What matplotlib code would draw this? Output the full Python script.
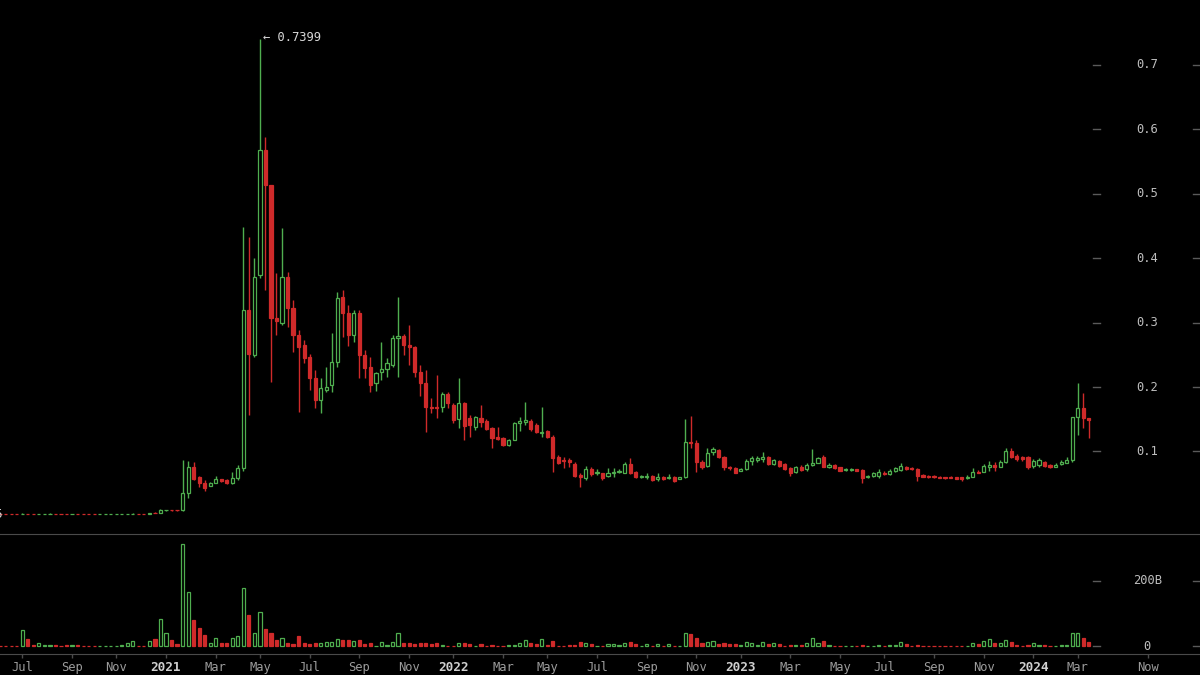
import numpy as np
import pandas as pd
import matplotlib
matplotlib.use("Agg")
import matplotlib.pyplot as plt
import matplotlib.dates as mdates
import matplotlib.transforms as mtransforms

# weekly candles, one per Sunday starting here
first_week = "2020-06-07"
now_date = "2024-05-31"

open_ = [
    .00255, .00250, .00245, .00238, .00233, .00335, .00320, .00310, .00330, .00345,
    .00355, .00325, .00310, .00275, .00285, .00275, .00265, .00260, .00255, .00260,
    .00265, .00270, .00275, .00290, .00320, .00350, .00330, .00320, .00450, .00440,
    .00880, .00920, .00880, .00840, .0350, .0763, .0600, .0510, .0470, .0515,
    .0567, .0550, .0515, .0582, .0737, .3196, .2497, .3740, .5680, .5137,
    .3067, .2990, .3710, .3220, .2807, .2650, .2470, .2135, .1798, .1960,
    .2030, .2393, .3400, .3144, .2807, .3144, .2498, .2317, .2058, .2240,
    .2281, .2343, .2756, .2792, .2650, .2627, .2239, .2058, .1696, .1685,
    .1696, .1893, .1721, .1500, .1747, .1520, .1375, .1515, .1479, .1360,
    .1230, .1205, .1101, .1178, .1447, .1463, .1479, .1410, .1292, .1318,
    .1230, .0918, .0870, .0860, .0804, .0633, .0581, .0721, .0660, .0660,
    .0617, .0660, .0685, .0670, .0804, .0685, .0597, .0597, .0617, .0565,
    .0597, .0580, .0607, .0576, .0597, .1152, .1126, .0841, .0773, .0996,
    .1022, .0918, .0763, .0737, .0701, .0721, .0856, .0866, .0876, .0908,
    .0804, .0856, .0804, .0737, .0685, .0763, .0720, .0790, .0825, .0908,
    .0763, .0789, .0753, .0711, .0711, .0720, .0711, .0597, .0618, .0618,
    .0670, .0650, .0701, .0711, .0763, .0737, .0720, .0633, .0618, .0618,
    .0608, .0597, .0608, .0597, .0597, .0580, .0608, .0685, .0685, .0763,
    .0789, .0763, .0841, .1011, .0929, .0908, .0908, .0773, .0789, .0841,
    .0789, .0763, .0804, .0825, .0866, .1529, .1669, .1513,
]
high = [
    .00262, .00256, .00250, .00244, .00520, .00365, .00330, .00345, .00355, .00370,
    .00362, .00332, .00318, .00292, .00290, .00280, .00270, .00266, .00266, .00270,
    .00276, .00282, .00298, .00330, .00460, .00362, .00340, .00470, .00580, .01050,
    .00980, .00950, .00900, .0860, .0856, .0830, .0620, .0560, .0530, .0620,
    .0575, .0565, .0685, .0789, .4490, .4330, .4000, .7399, .5887, .5140,
    .3766, .4464, .3790, .3350, .2880, .2730, .2520, .2260, .2135, .2315,
    .2834, .3480, .3500, .3270, .3196, .3200, .2575, .2460, .2240, .2700,
    .2446, .2808, .3403, .2830, .2963, .2640, .2340, .2265, .1830, .2187,
    .1930, .1930, .1747, .2136, .1770, .1570, .1550, .1720, .1500, .1385,
    .1385, .1230, .1200, .1460, .1540, .1770, .1510, .1447, .1696, .1340,
    .1256, .0946, .0920, .0892, .0840, .0660, .0773, .0760, .0721, .0670,
    .0737, .0740, .0720, .0840, .0892, .0700, .0635, .0660, .0633, .0660,
    .0617, .0650, .0617, .0607, .1498, .1550, .1180, .0868, .1048, .1070,
    .1032, .0928, .0773, .0753, .0737, .0877, .0930, .0930, .0995, .0928,
    .0877, .0866, .0825, .0753, .0773, .0790, .0820, .1037, .0908, .0944,
    .0815, .0804, .0763, .0737, .0737, .0730, .0721, .0633, .0685, .0720,
    .0701, .0720, .0763, .0814, .0773, .0753, .0737, .0649, .0628, .0628,
    .0618, .0608, .0618, .0608, .0608, .0628, .0737, .0711, .0804, .0856,
    .0840, .0866, .1048, .1048, .0960, .0929, .0929, .0877, .0893, .0856,
    .0804, .0815, .0866, .0908, .1540, .2057, .1912, .1513,
]
low = [
    .00246, .00241, .00235, .00229, .00230, .00310, .00300, .00305, .00325, .00335,
    .00318, .00300, .00265, .00270, .00268, .00258, .00255, .00250, .00252, .00256,
    .00260, .00266, .00270, .00285, .00315, .00320, .00312, .00315, .00400, .00430,
    .00800, .00830, .00780, .00780, .0272, .0550, .0450, .0390, .0460, .0505,
    .0525, .0500, .0494, .0560, .0700, .1565, .2470, .3700, .3506, .2080,
    .2807, .2960, .2937, .2548, .1617, .2370, .1953, .1670, .1590, .1920,
    .1920, .2315, .2780, .2630, .2703, .2135, .2136, .1930, .1940, .2110,
    .2150, .2317, .2160, .2498, .2340, .2160, .1860, .1308, .1590, .1520,
    .1610, .1670, .1437, .1360, .1178, .1230, .1330, .1385, .1330, .1050,
    .1180, .1090, .1090, .1170, .1310, .1410, .1320, .1290, .1230, .1210,
    .0685, .0800, .0737, .0763, .0597, .0452, .0556, .0620, .0640, .0556,
    .0597, .0600, .0660, .0660, .0650, .0580, .0581, .0576, .0545, .0545,
    .0555, .0570, .0530, .0566, .0581, .1050, .0685, .0722, .0763, .0944,
    .0892, .0710, .0710, .0660, .0690, .0711, .0789, .0840, .0840, .0789,
    .0789, .0763, .0711, .0618, .0670, .0695, .0700, .0770, .0815, .0753,
    .0740, .0727, .0690, .0701, .0701, .0690, .0515, .0582, .0597, .0582,
    .0633, .0633, .0685, .0701, .0711, .0711, .0545, .0597, .0592, .0590,
    .0582, .0576, .0587, .0571, .0545, .0571, .0597, .0660, .0675, .0701,
    .0701, .0753, .0825, .0893, .0856, .0856, .0720, .0737, .0753, .0753,
    .0737, .0753, .0789, .0815, .0840, .1254, .1358, .1203,
]
close = [
    .00250, .00245, .00238, .00233, .00335, .00320, .00310, .00330, .00345, .00355,
    .00325, .00310, .00275, .00285, .00275, .00265, .00260, .00255, .00260, .00265,
    .00270, .00275, .00290, .00320, .00350, .00330, .00320, .00450, .00440, .00880,
    .00920, .00880, .00840, .0350, .0763, .0567, .0504, .0427, .0515, .0567,
    .0540, .0515, .0582, .0737, .3196, .2520, .3710, .5680, .5137, .3067,
    .3020, .3710, .3220, .2807, .2626, .2445, .2135, .1798, .1980, .2000,
    .2393, .3377, .3144, .2807, .3144, .2497, .2291, .2032, .2213, .2280,
    .2369, .2756, .2792, .2653, .2620, .2239, .2058, .1696, .1670, .1670,
    .1893, .1747, .1489, .1747, .1395, .1411, .1541, .1463, .1344, .1205,
    .1190, .1101, .1178, .1437, .1479, .1490, .1344, .1308, .1308, .1230,
    .0900, .0826, .0850, .0840, .0617, .0607, .0721, .0649, .0685, .0580,
    .0660, .0685, .0700, .0804, .0670, .0597, .0617, .0617, .0555, .0597,
    .0565, .0607, .0545, .0597, .1150, .1126, .0841, .0753, .0970, .1032,
    .0918, .0763, .0737, .0670, .0727, .0856, .0892, .0892, .0918, .0804,
    .0866, .0773, .0721, .0660, .0753, .0711, .0790, .0825, .0892, .0763,
    .0789, .0737, .0701, .0721, .0720, .0701, .0582, .0618, .0659, .0685,
    .0650, .0701, .0737, .0773, .0720, .0720, .0618, .0608, .0597, .0597,
    .0587, .0582, .0592, .0576, .0571, .0608, .0685, .0670, .0773, .0789,
    .0763, .0841, .1011, .0908, .0877, .0877, .0753, .0856, .0866, .0773,
    .0753, .0789, .0841, .0866, .1529, .1669, .1513, .1490,
]
# weekly volume, billions
volume = [
    1.5, 1.5, 1.5, 2, 50, 22, 5, 10, 5, 5,
    5, 3, 5, 4, 4, 3, 3, 2.5, 2.5, 3,
    2.5, 3, 4, 10, 17, 2.5, 2.5, 17, 23, 83,
    40, 20, 7, 313, 167, 81, 55, 35, 12, 26,
    10, 10, 26, 32, 178, 96, 40, 104, 52, 40,
    20, 26, 12, 7, 32, 10, 7, 10, 12, 13,
    15, 22, 20, 20, 17, 20, 7, 10, 3, 15,
    5, 15, 40, 10, 12, 7, 10, 12, 7, 12,
    5, 3, 3, 12, 10, 7, 3, 7, 3, 5,
    3, 2.5, 4, 5, 10, 20, 10, 7, 22, 5,
    17, 2.5, 2.5, 4.7, 4.7, 12.8, 9.8, 6.7, 2, 2,
    6.7, 6.7, 4.7, 9.8, 12.8, 6.7, 2, 6.7, 3, 6.7,
    1.6, 6.7, 1.6, 1.6, 40, 37, 27, 9.8, 12.8, 16.9,
    6.7, 9.8, 6.7, 6.7, 4.7, 12.8, 9.8, 4.7, 12.8, 6.7,
    9.8, 6.7, 1.6, 4.7, 4.7, 4.7, 9.8, 26, 9.8, 16.9,
    4.7, 1.6, 1.6, 1.6, 1.6, 1.6, 4.7, 1.6, 1.6, 4.7,
    1.6, 4.7, 4.7, 12.8, 6.7, 1.6, 4.7, 1.6, 1.6, 1.6,
    1.6, 1.6, 1.6, 1.6, 1.6, 1.6, 9.8, 6.7, 16.9, 22,
    9.8, 9.8, 20, 12.8, 4.7, 1.6, 4.7, 9.8, 4.7, 4.7,
    1.6, 1.6, 4.7, 4.7, 40, 40, 27, 12.8,
]

price_ticks = [0.1, 0.2, 0.3, 0.4, 0.5, 0.6, 0.7]
volume_ticks = [0, 200]
volume_labels = ["0", "200B"]
ath_label = "\u2190 0.7399"
low_label = "0.0025"

GREEN = "#4fae4f"
RED = "#cf2a2a"
GRID = "#4a4a4a"
MONO = "DejaVu Sans Mono"

o = np.array(open_)
h = np.array(high)
l = np.array(low)
c = np.array(close)
v = np.array(volume)

weeks = np.datetime64(first_week, "D") + 7 * np.arange(len(o))
x = mdates.date2num(weeks)
up = c >= o
edge = np.where(up, GREEN, RED)
face = np.where(up, "black", RED)

fig = plt.figure(figsize=(12, 6.75), dpi=100, facecolor="black")
ax = fig.add_axes([0, 0.2081, 1, 0.7919], facecolor="black")
axv = fig.add_axes([0, 0.0304, 1, 0.1778], facecolor="black")

# candles
body_lo = np.minimum(o, c)
body_hi = np.maximum(o, c)
ax.vlines(x, l, body_lo, colors=edge, linewidth=1.0)
ax.vlines(x, body_hi, h, colors=edge, linewidth=1.0)
ax.bar(x, body_hi - body_lo, bottom=body_lo, width=4.0, color=face,
       edgecolor=edge, linewidth=0.9)

# volume
axv.bar(x, v, width=4.0, color=face, edgecolor=edge, linewidth=0.9)

xmin, xmax = x[0] - 0.3, x[-1] + 141
for a in (ax, axv):
    a.set_xlim(xmin, xmax)
    a.set_yticks([])
    for s in a.spines.values():
        s.set_visible(False)
ax.set_xticks([])
ax.set_ylim(-0.029, 0.8009)
axv.set_ylim(-24.4, 342)
axv.spines["top"].set_visible(True)
axv.spines["bottom"].set_visible(True)
axv.spines["top"].set_color(GRID)
axv.spines["bottom"].set_color(GRID)


def right_ticks(a, values, labels):
    tr = mtransforms.blended_transform_factory(a.transAxes, a.transData)
    for val, lab in zip(values, labels):
        a.plot([0.911, 0.917], [val, val], transform=tr, color="#5a5a5a", lw=1)
        a.plot([0.994, 1.0], [val, val], transform=tr, color="#5a5a5a", lw=1)
        a.text(0.956, val, lab, transform=tr, ha="center", va="center",
               color="#bdbdbd", fontsize=8.7, family=MONO)


right_ticks(ax, price_ticks, [f"{t:.1f}" for t in price_ticks])
right_ticks(axv, volume_ticks, volume_labels)

# x ticks: first weekly candle on/after the 1st of every odd month
month_starts = pd.date_range("2020-07-01", "2024-03-01", freq="2MS")
tick_x, tick_lab, is_year = [], [], []
for m in month_starts:
    idx = np.searchsorted(weeks, np.datetime64(m.date(), "D"))
    if idx >= len(weeks):
        continue
    tick_x.append(x[idx])
    tick_lab.append(str(m.year) if m.month == 1 else m.strftime("%b"))
    is_year.append(m.month == 1)
tick_x.append(mdates.date2num(np.datetime64(now_date, "D")))
tick_lab.append("Now")
is_year.append(False)

axv.set_xticks(tick_x)
axv.set_xticklabels(tick_lab)
axv.tick_params(axis="x", length=3, width=1, color=GRID, pad=2,
                labelsize=8.7, labelcolor="#9c9c9c")
for t, yr in zip(axv.get_xticklabels(), is_year):
    t.set_family(MONO)
    if yr:
        t.set_fontweight("bold")
        t.set_color("#cfcfcf")
        t.set_fontsize(9.2)

# high / low markers
i_max = int(np.argmax(h))
ax.annotate(ath_label, xy=(x[i_max], h[i_max]), xytext=(2.5, 1),
            textcoords="offset points", ha="left", va="center",
            color="#d8d8d8", fontsize=8.7, family=MONO)
ax.annotate(low_label, xy=(x[0], l[0]), xytext=(2, 0),
            textcoords="offset points", ha="right", va="center",
            color="#d8d8d8", fontsize=8.7, family=MONO)

fig.savefig("out.png", dpi=100, facecolor="black")
